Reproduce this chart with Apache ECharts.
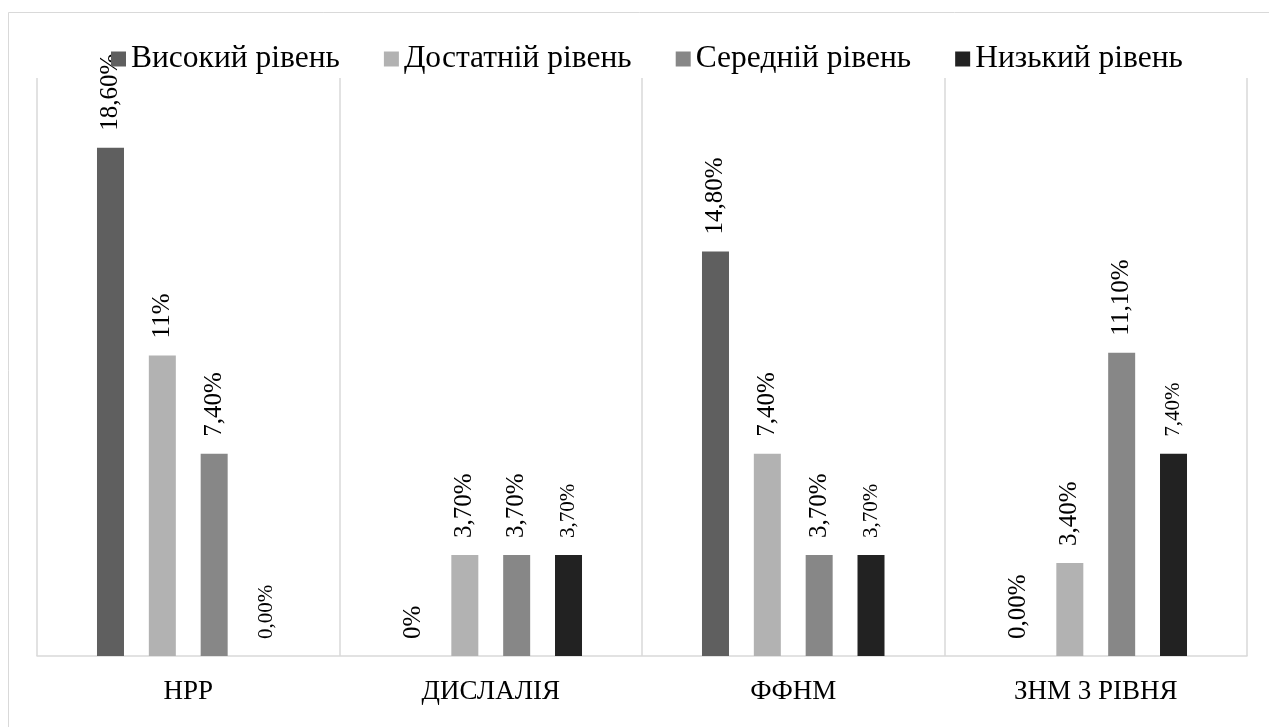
<!DOCTYPE html>
<html>
<head>
<meta charset="utf-8">
<script src="https://cdn.jsdelivr.net/npm/echarts@6/dist/echarts.min.js"></script>
<style>
  html, body { margin: 0; padding: 0; background: #fff; }
  #main { width: 1269px; height: 727px; }
</style>
</head>
<body>
<div id="main"></div>
<script>
// категорії та рівні
var categories = ['НРР', 'ДИСЛАЛІЯ', 'ФФНМ', 'ЗНМ 3 РІВНЯ'];
var levels = ['Високий рівень', 'Достатній рівень', 'Середній рівень', 'Низький рівень'];
var colors = ['#5f5f5f', '#b2b2b2', '#878787', '#222222'];

// значення, %
var highValues = [18.6, 0, 14.8, 0];
var sufficientValues = [11, 3.7, 7.4, 3.4];
var mediumValues = [7.4, 3.7, 3.7, 11.1];
var lowValues = [0, 3.7, 3.7, 7.4];

// підписи як на рисунку
var highLabels = ['18,60%', '0%', '14,80%', '0,00%'];
var sufficientLabels = ['11%', '3,70%', '7,40%', '3,40%'];
var mediumLabels = ['7,40%', '3,70%', '3,70%', '11,10%'];
var lowLabels = ['0,00%', '3,70%', '3,70%', '7,40%'];
// дрібніші підписи
var smallHigh = [false, false, false, false];
var smallSufficient = [false, false, false, false];
var smallMedium = [false, false, false, false];
var smallLow = [true, true, true, true];

var chart = echarts.init(document.getElementById('main'));

function makeSeries(name, values, labels, small, color) {
  return {
    name: name,
    type: 'bar',
    barWidth: 27,
    barGap: '92%',
    itemStyle: { color: color },
    data: values.map(function (v, i) {
      return {
        value: v,
        label: {
          fontSize: small[i] ? 21 : 25,
          formatter: labels[i]
        }
      };
    }),
    label: {
      show: true,
      position: 'top',
      rotate: 90,
      align: 'left',
      verticalAlign: 'middle',
      distance: 17,
      color: '#000',
      fontFamily: 'Liberation Serif'
    }
  };
}

var option = {
  backgroundColor: '#fff',
  animation: false,
  graphic: [{
    type: 'rect',
    shape: { x: 8.5, y: 12.5, width: 1300, height: 800 },
    style: { fill: 'none', stroke: '#d9d9d9', lineWidth: 1 },
    silent: true
  }],
  legend: {
    data: levels,
    top: 38,
    left: 106,
    itemWidth: 15,
    itemHeight: 15,
    itemGap: 44,
    icon: 'rect',
    textStyle: {
      fontFamily: 'Liberation Serif',
      fontSize: 31.5,
      color: '#000'
    }
  },
  grid: {
    left: 37,
    right: 22,
    top: 78,
    bottom: 71
  },
  xAxis: {
    type: 'category',
    data: categories,
    axisTick: { show: false },
    axisLine: { lineStyle: { color: '#d9d9d9', width: 1.5 } },
    splitLine: { show: true, lineStyle: { color: '#d9d9d9', width: 1.5 } },
    axisLabel: {
      margin: 22,
      fontFamily: 'Liberation Serif',
      fontSize: 27,
      color: '#000'
    }
  },
  yAxis: {
    type: 'value',
    min: 0,
    max: 21.15,
    show: false,
    splitLine: { show: false }
  },
  series: [
    makeSeries(levels[0], highValues, highLabels, smallHigh, colors[0]),
    makeSeries(levels[1], sufficientValues, sufficientLabels, smallSufficient, colors[1]),
    makeSeries(levels[2], mediumValues, mediumLabels, smallMedium, colors[2]),
    makeSeries(levels[3], lowValues, lowLabels, smallLow, colors[3])
  ]
};

chart.setOption(option);
</script>
</body>
</html>
